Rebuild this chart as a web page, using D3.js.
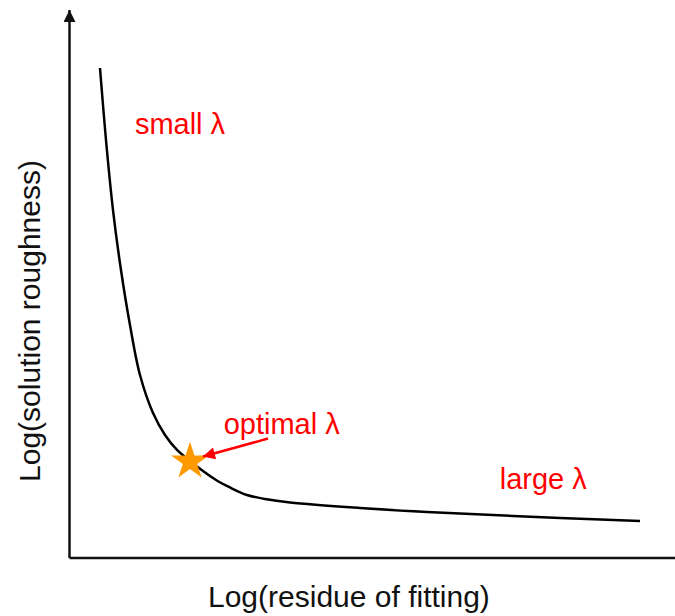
<!DOCTYPE html>
<html>
<head>
<meta charset="utf-8">
<script src="https://cdn.jsdelivr.net/npm/d3@7"></script>
<style>
  html, body { margin: 0; padding: 0; background: #fff; }
  svg { display: block; }
  text { font-family: "Liberation Sans", Arial, sans-serif; }
</style>
</head>
<body>
<svg id="chart" width="675" height="616"></svg>
<script>
// L-curve: log(residue) vs log(roughness), arbitrary units 0–100
const residue   = [5.08, 6.08, 7.25, 8.58, 10.08, 11.75, 13.92, 15.92, 17.92, 20.08, 22.25, 24.42, 26.75, 29.58, 32.58, 36.75, 48.42, 59.58, 70.58, 81.75, 95.08];
const roughness = [89.42, 76.28, 63.50, 52.55, 42.52, 33.39, 26.46, 22.45, 19.71, 17.70, 15.88, 14.23, 12.87, 11.50, 10.77, 10.13, 9.12, 8.39, 7.85, 7.30, 6.75];

// corner of the curve (regularisation optimum)
const optimal = { residue: 20.08, roughness: 17.6 };

const labels = [
  { text: "small \u03bb",   residue: 10.9, roughness: 77.4 },
  { text: "optimal \u03bb", residue: 25.7, roughness: 22.6 },
  { text: "large \u03bb",   residue: 71.7, roughness: 12.6 }
];
const xTitle = "Log(residue of fitting)";
const yTitle = "Log(solution roughness)";

const svg = d3.select("#chart");
const x = d3.scaleLinear().domain([0, 100]).range([69.5, 669.5]);
const y = d3.scaleLinear().domain([0, 100]).range([558, 10]);

const defs = svg.append("defs");
defs.append("marker")
  .attr("id", "axisHead")
  .attr("viewBox", "0 0 10 10")
  .attr("refX", 10).attr("refY", 5)
  .attr("markerUnits", "userSpaceOnUse")
  .attr("markerWidth", 17).attr("markerHeight", 12)
  .attr("orient", "auto")
  .append("path").attr("d", "M0,0 L10,5 L0,10 Z").attr("fill", "#111");

defs.append("marker")
  .attr("id", "redHead")
  .attr("viewBox", "0 0 10 10")
  .attr("refX", 10).attr("refY", 5)
  .attr("markerUnits", "userSpaceOnUse")
  .attr("markerWidth", 15).attr("markerHeight", 12)
  .attr("orient", "auto")
  .append("path").attr("d", "M0,0 L10,5 L0,10 Z").attr("fill", "#ff0000");

// axes with arrowheads
svg.append("line")
  .attr("x1", x(0)).attr("y1", y(0))
  .attr("x2", x(0)).attr("y2", y(100))
  .attr("stroke", "#111").attr("stroke-width", 2.5)
  .attr("marker-end", "url(#axisHead)");
svg.append("line")
  .attr("x1", x(0)).attr("y1", y(0))
  .attr("x2", x(103)).attr("y2", y(0))
  .attr("stroke", "#111").attr("stroke-width", 2.5)
  .attr("marker-end", "url(#axisHead)");

// the L-curve
const pts = residue.map((r, i) => [r, roughness[i]]);
const line = d3.line()
  .x(d => x(d[0])).y(d => y(d[1]))
  .curve(d3.curveCatmullRom.alpha(0.5));
svg.append("path")
  .attr("d", line(pts))
  .attr("fill", "none")
  .attr("stroke", "#000")
  .attr("stroke-width", 2.5);

// optimal point marker
const ox = x(optimal.residue), oy = y(optimal.roughness);
svg.append("path")
  .attr("d", d3.symbol().type(d3.symbolStar).size(440)())
  .attr("transform", `translate(${ox},${oy})`)
  .attr("fill", "#ff9900");

// arrow from label to the optimum
svg.append("line")
  .attr("x1", ox + 78).attr("y1", oy - 23)
  .attr("x2", ox + 13).attr("y2", oy - 5)
  .attr("stroke", "#ff0000").attr("stroke-width", 2.5)
  .attr("marker-end", "url(#redHead)");

// annotations
svg.selectAll("text.note")
  .data(labels)
  .join("text")
  .attr("class", "note")
  .attr("x", d => x(d.residue))
  .attr("y", d => y(d.roughness))
  .attr("fill", "#ff0000")
  .attr("font-size", 29)
  .text(d => d.text);

// axis titles
svg.append("text")
  .attr("x", 208).attr("y", 607)
  .attr("font-size", 30)
  .attr("fill", "#111")
  .text(xTitle);
svg.append("text")
  .attr("transform", "translate(40,321) rotate(-90)")
  .attr("text-anchor", "middle")
  .attr("font-size", 30)
  .attr("fill", "#111")
  .text(yTitle);
</script>
</body>
</html>
